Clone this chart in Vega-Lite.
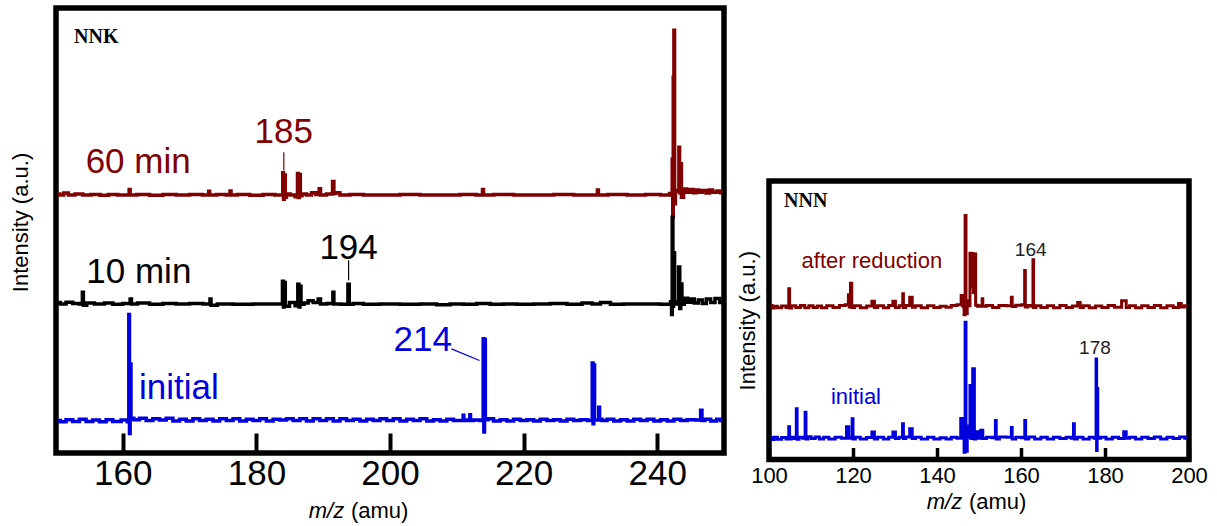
{
  "$schema": "https://vega.github.io/schema/vega-lite/v6.json",
  "padding": {"left": 6, "top": 5, "right": 0, "bottom": 0},
  "background": "white",
  "config": {"font": "Liberation Sans", "view": {"stroke": null}},
  "columns": 2,
  "align": "each",
  "bounds": "full",
  "spacing": 1,
  "datasets": {
    "leftSpectra": [
      {"series":"60 min","mz":150.3,"intensity":58.2},{"series":"60 min","mz":150.8,"intensity":58.0},{"series":"60 min","mz":151.5,"intensity":58.4},{"series":"60 min","mz":152.2,"intensity":58.0},{"series":"60 min","mz":153.5,"intensity":58.2},{"series":"60 min","mz":154.5,"intensity":58.0},{"series":"60 min","mz":156,"intensity":58.1},{"series":"60 min","mz":157.2,"intensity":57.9},{"series":"60 min","mz":158.5,"intensity":58.1},{"series":"60 min","mz":160,"intensity":58.0},{"series":"60 min","mz":160.9,"intensity":58.0},{"series":"60 min","mz":161.0,"intensity":59.2},{"series":"60 min","mz":161.2,"intensity":58.0},{"series":"60 min","mz":163,"intensity":58.1},{"series":"60 min","mz":165,"intensity":57.9},{"series":"60 min","mz":167,"intensity":58.1},{"series":"60 min","mz":169,"intensity":58.0},{"series":"60 min","mz":171,"intensity":58.1},{"series":"60 min","mz":172.8,"intensity":58.0},{"series":"60 min","mz":172.9,"intensity":58.8},{"series":"60 min","mz":173.1,"intensity":58.0},{"series":"60 min","mz":175,"intensity":58.1},{"series":"60 min","mz":176.0,"intensity":58.0},{"series":"60 min","mz":176.1,"intensity":58.9},{"series":"60 min","mz":176.3,"intensity":58.0},{"series":"60 min","mz":178,"intensity":58.1},{"series":"60 min","mz":180,"intensity":57.9},{"series":"60 min","mz":182,"intensity":58.1},{"series":"60 min","mz":183.5,"intensity":58.0},{"series":"60 min","mz":183.9,"intensity":58.0},{"series":"60 min","mz":184.0,"intensity":63.0},{"series":"60 min","mz":184.1,"intensity":57.0},{"series":"60 min","mz":184.25,"intensity":62.5},{"series":"60 min","mz":184.4,"intensity":57.5},{"series":"60 min","mz":184.6,"intensity":58.2},{"series":"60 min","mz":185.5,"intensity":58.0},{"series":"60 min","mz":186.1,"intensity":57.6},{"series":"60 min","mz":186.2,"intensity":62.8},{"series":"60 min","mz":186.35,"intensity":57.4},{"series":"60 min","mz":186.5,"intensity":62.6},{"series":"60 min","mz":186.65,"intensity":57.8},{"series":"60 min","mz":187,"intensity":58.2},{"series":"60 min","mz":188,"intensity":58.0},{"series":"60 min","mz":188.5,"intensity":58.5},{"series":"60 min","mz":189.3,"intensity":58.1},{"series":"60 min","mz":189.5,"intensity":59.4},{"series":"60 min","mz":189.7,"intensity":58.0},{"series":"60 min","mz":191.3,"intensity":58.2},{"series":"60 min","mz":191.5,"intensity":61.0},{"series":"60 min","mz":191.7,"intensity":58.3},{"series":"60 min","mz":192,"intensity":58.5},{"series":"60 min","mz":193,"intensity":58.0},{"series":"60 min","mz":195,"intensity":58.1},{"series":"60 min","mz":197,"intensity":58.0},{"series":"60 min","mz":200,"intensity":58.0},{"series":"60 min","mz":203,"intensity":58.1},{"series":"60 min","mz":206,"intensity":58.0},{"series":"60 min","mz":209,"intensity":58.0},{"series":"60 min","mz":212,"intensity":58.1},{"series":"60 min","mz":213.8,"intensity":58.0},{"series":"60 min","mz":213.9,"intensity":59.2},{"series":"60 min","mz":214.1,"intensity":58.0},{"series":"60 min","mz":217,"intensity":58.1},{"series":"60 min","mz":220,"intensity":58.0},{"series":"60 min","mz":223,"intensity":58.0},{"series":"60 min","mz":226,"intensity":58.1},{"series":"60 min","mz":229,"intensity":58.0},{"series":"60 min","mz":231.0,"intensity":58.0},{"series":"60 min","mz":231.1,"intensity":59.1},{"series":"60 min","mz":231.3,"intensity":58.0},{"series":"60 min","mz":234,"intensity":58.1},{"series":"60 min","mz":237,"intensity":58.0},{"series":"60 min","mz":239.5,"intensity":58.1},{"series":"60 min","mz":241.5,"intensity":58.0},{"series":"60 min","mz":242.2,"intensity":58.3},{"series":"60 min","mz":242.3,"intensity":66},{"series":"60 min","mz":242.35,"intensity":53},{"series":"60 min","mz":242.45,"intensity":84.5},{"series":"60 min","mz":242.55,"intensity":95},{"series":"60 min","mz":242.65,"intensity":56},{"series":"60 min","mz":242.8,"intensity":59},{"series":"60 min","mz":243.2,"intensity":58.8},{"series":"60 min","mz":243.3,"intensity":68.7},{"series":"60 min","mz":243.4,"intensity":58.5},{"series":"60 min","mz":243.55,"intensity":65},{"series":"60 min","mz":243.7,"intensity":57.5},{"series":"60 min","mz":244.2,"intensity":59.3},{"series":"60 min","mz":244.6,"intensity":58.6},{"series":"60 min","mz":245.2,"intensity":59.2},{"series":"60 min","mz":245.6,"intensity":58.5},{"series":"60 min","mz":246,"intensity":59.1},{"series":"60 min","mz":246.5,"intensity":58.6},{"series":"60 min","mz":247,"intensity":59.0},{"series":"60 min","mz":247.6,"intensity":58.4},{"series":"60 min","mz":248,"intensity":59.1},{"series":"60 min","mz":248.6,"intensity":58.6},{"series":"60 min","mz":249.3,"intensity":58.9},{"series":"60 min","mz":249.7,"intensity":58.5},
      {"series":"10 min","mz":150.3,"intensity":33.8},{"series":"10 min","mz":151,"intensity":33.5},{"series":"10 min","mz":152,"intensity":33.9},{"series":"10 min","mz":153,"intensity":33.6},{"series":"10 min","mz":153.9,"intensity":33.5},{"series":"10 min","mz":154.0,"intensity":36.1},{"series":"10 min","mz":154.2,"intensity":33.2},{"series":"10 min","mz":155,"intensity":33.7},{"series":"10 min","mz":156.5,"intensity":33.5},{"series":"10 min","mz":158,"intensity":33.7},{"series":"10 min","mz":159,"intensity":33.4},{"series":"10 min","mz":161,"intensity":33.6},{"series":"10 min","mz":161.2,"intensity":34.6},{"series":"10 min","mz":161.4,"intensity":33.5},{"series":"10 min","mz":163,"intensity":33.7},{"series":"10 min","mz":165,"intensity":33.4},{"series":"10 min","mz":167,"intensity":33.6},{"series":"10 min","mz":169,"intensity":33.5},{"series":"10 min","mz":171,"intensity":33.6},{"series":"10 min","mz":173.0,"intensity":33.5},{"series":"10 min","mz":173.1,"intensity":34.6},{"series":"10 min","mz":173.3,"intensity":33.2},{"series":"10 min","mz":175,"intensity":33.5},{"series":"10 min","mz":178,"intensity":33.4},{"series":"10 min","mz":181,"intensity":33.5},{"series":"10 min","mz":183.8,"intensity":33.5},{"series":"10 min","mz":184.0,"intensity":38.6},{"series":"10 min","mz":184.1,"intensity":32.8},{"series":"10 min","mz":184.25,"intensity":38.3},{"series":"10 min","mz":184.4,"intensity":33.0},{"series":"10 min","mz":185.5,"intensity":33.8},{"series":"10 min","mz":186.1,"intensity":33.1},{"series":"10 min","mz":186.3,"intensity":37.9},{"series":"10 min","mz":186.45,"intensity":32.8},{"series":"10 min","mz":186.6,"intensity":37.5},{"series":"10 min","mz":186.75,"intensity":33.4},{"series":"10 min","mz":187.5,"intensity":33.7},{"series":"10 min","mz":188,"intensity":34.2},{"series":"10 min","mz":189,"intensity":33.8},{"series":"10 min","mz":189.5,"intensity":34.6},{"series":"10 min","mz":189.7,"intensity":33.5},{"series":"10 min","mz":191.4,"intensity":33.6},{"series":"10 min","mz":191.5,"intensity":36.1},{"series":"10 min","mz":191.7,"intensity":33.5},{"series":"10 min","mz":193.6,"intensity":33.4},{"series":"10 min","mz":193.8,"intensity":37.9},{"series":"10 min","mz":194.0,"intensity":33.4},{"series":"10 min","mz":195,"intensity":33.6},{"series":"10 min","mz":197,"intensity":33.4},{"series":"10 min","mz":200,"intensity":33.5},{"series":"10 min","mz":203,"intensity":33.4},{"series":"10 min","mz":206,"intensity":33.5},{"series":"10 min","mz":208,"intensity":33.3},{"series":"10 min","mz":210,"intensity":33.5},{"series":"10 min","mz":212,"intensity":33.4},{"series":"10 min","mz":214,"intensity":33.6},{"series":"10 min","mz":216,"intensity":33.4},{"series":"10 min","mz":218,"intensity":33.5},{"series":"10 min","mz":220,"intensity":33.4},{"series":"10 min","mz":223,"intensity":33.5},{"series":"10 min","mz":225,"intensity":33.6},{"series":"10 min","mz":228,"intensity":33.4},{"series":"10 min","mz":229.5,"intensity":33.7},{"series":"10 min","mz":231,"intensity":33.5},{"series":"10 min","mz":232,"intensity":33.8},{"series":"10 min","mz":234,"intensity":33.4},{"series":"10 min","mz":236,"intensity":33.5},{"series":"10 min","mz":239,"intensity":33.5},{"series":"10 min","mz":241.9,"intensity":33.4},{"series":"10 min","mz":242.1,"intensity":34.0},{"series":"10 min","mz":242.2,"intensity":31.1},{"series":"10 min","mz":242.3,"intensity":53},{"series":"10 min","mz":242.4,"intensity":33},{"series":"10 min","mz":242.5,"intensity":45},{"series":"10 min","mz":242.7,"intensity":33.5},{"series":"10 min","mz":243.1,"intensity":34.0},{"series":"10 min","mz":243.3,"intensity":41.8},{"series":"10 min","mz":243.45,"intensity":32.5},{"series":"10 min","mz":243.6,"intensity":38},{"series":"10 min","mz":243.8,"intensity":33.4},{"series":"10 min","mz":244.3,"intensity":34.8},{"series":"10 min","mz":244.8,"intensity":33.9},{"series":"10 min","mz":245.3,"intensity":34.6},{"series":"10 min","mz":245.8,"intensity":33.7},{"series":"10 min","mz":246.5,"intensity":34.4},{"series":"10 min","mz":247,"intensity":33.6},{"series":"10 min","mz":247.7,"intensity":34.6},{"series":"10 min","mz":248.3,"intensity":33.8},{"series":"10 min","mz":249,"intensity":34.7},{"series":"10 min","mz":249.7,"intensity":33.8},
      {"series":"initial","mz":150.3,"intensity":7.3},{"series":"initial","mz":151,"intensity":7.0},{"series":"initial","mz":152,"intensity":7.5},{"series":"initial","mz":153,"intensity":7.1},{"series":"initial","mz":154,"intensity":7.6},{"series":"initial","mz":155,"intensity":7.1},{"series":"initial","mz":156,"intensity":7.4},{"series":"initial","mz":157,"intensity":7.0},{"series":"initial","mz":158,"intensity":7.5},{"series":"initial","mz":159,"intensity":7.1},{"series":"initial","mz":160.5,"intensity":7.4},{"series":"initial","mz":160.85,"intensity":7.0},{"series":"initial","mz":160.95,"intensity":31.1},{"series":"initial","mz":161.05,"intensity":4.4},{"series":"initial","mz":161.15,"intensity":20},{"series":"initial","mz":161.3,"intensity":7.8},{"series":"initial","mz":162,"intensity":7.5},{"series":"initial","mz":163,"intensity":7.8},{"series":"initial","mz":164,"intensity":7.3},{"series":"initial","mz":165,"intensity":7.7},{"series":"initial","mz":166,"intensity":7.4},{"series":"initial","mz":167,"intensity":7.8},{"series":"initial","mz":168,"intensity":7.2},{"series":"initial","mz":169,"intensity":7.6},{"series":"initial","mz":170,"intensity":7.2},{"series":"initial","mz":171,"intensity":7.7},{"series":"initial","mz":172,"intensity":7.3},{"series":"initial","mz":173,"intensity":7.6},{"series":"initial","mz":174,"intensity":7.2},{"series":"initial","mz":175,"intensity":7.7},{"series":"initial","mz":176,"intensity":7.3},{"series":"initial","mz":177,"intensity":7.7},{"series":"initial","mz":178,"intensity":7.2},{"series":"initial","mz":179,"intensity":7.6},{"series":"initial","mz":180,"intensity":7.3},{"series":"initial","mz":181,"intensity":7.7},{"series":"initial","mz":182,"intensity":7.2},{"series":"initial","mz":183,"intensity":7.6},{"series":"initial","mz":184,"intensity":7.4},{"series":"initial","mz":185,"intensity":7.7},{"series":"initial","mz":186,"intensity":7.3},{"series":"initial","mz":187,"intensity":7.7},{"series":"initial","mz":188,"intensity":7.2},{"series":"initial","mz":189,"intensity":7.7},{"series":"initial","mz":190,"intensity":7.3},{"series":"initial","mz":191,"intensity":7.7},{"series":"initial","mz":192,"intensity":7.2},{"series":"initial","mz":193,"intensity":7.7},{"series":"initial","mz":194,"intensity":7.3},{"series":"initial","mz":195,"intensity":7.6},{"series":"initial","mz":196,"intensity":7.2},{"series":"initial","mz":197,"intensity":7.6},{"series":"initial","mz":198,"intensity":7.3},{"series":"initial","mz":199,"intensity":7.7},{"series":"initial","mz":200,"intensity":7.3},{"series":"initial","mz":201,"intensity":7.7},{"series":"initial","mz":202,"intensity":7.2},{"series":"initial","mz":203,"intensity":7.6},{"series":"initial","mz":204,"intensity":7.3},{"series":"initial","mz":205,"intensity":7.7},{"series":"initial","mz":206,"intensity":7.2},{"series":"initial","mz":207,"intensity":7.5},{"series":"initial","mz":208,"intensity":7.2},{"series":"initial","mz":209,"intensity":7.6},{"series":"initial","mz":210,"intensity":7.3},{"series":"initial","mz":210.9,"intensity":7.3},{"series":"initial","mz":211,"intensity":8.5},{"series":"initial","mz":211.1,"intensity":7.3},{"series":"initial","mz":211.9,"intensity":7.4},{"series":"initial","mz":212,"intensity":8.6},{"series":"initial","mz":212.1,"intensity":7.3},{"series":"initial","mz":213,"intensity":7.4},{"series":"initial","mz":213.9,"intensity":7.3},{"series":"initial","mz":214.0,"intensity":25.7},{"series":"initial","mz":214.1,"intensity":4.7},{"series":"initial","mz":214.2,"intensity":25.5},{"series":"initial","mz":214.35,"intensity":7.5},{"series":"initial","mz":215,"intensity":7.7},{"series":"initial","mz":216,"intensity":7.2},{"series":"initial","mz":217,"intensity":7.5},{"series":"initial","mz":218,"intensity":7.2},{"series":"initial","mz":219,"intensity":7.6},{"series":"initial","mz":220,"intensity":7.3},{"series":"initial","mz":221,"intensity":7.5},{"series":"initial","mz":222,"intensity":7.2},{"series":"initial","mz":223,"intensity":7.6},{"series":"initial","mz":224,"intensity":7.3},{"series":"initial","mz":225,"intensity":7.5},{"series":"initial","mz":226,"intensity":7.2},{"series":"initial","mz":227,"intensity":7.6},{"series":"initial","mz":228,"intensity":7.3},{"series":"initial","mz":229,"intensity":7.5},{"series":"initial","mz":230.2,"intensity":7.3},{"series":"initial","mz":230.35,"intensity":20.2},{"series":"initial","mz":230.45,"intensity":6.6},{"series":"initial","mz":230.55,"intensity":19.8},{"series":"initial","mz":230.7,"intensity":7.4},{"series":"initial","mz":231.2,"intensity":7.4},{"series":"initial","mz":231.3,"intensity":10.3},{"series":"initial","mz":231.45,"intensity":7.6},{"series":"initial","mz":232,"intensity":7.3},{"series":"initial","mz":233,"intensity":7.6},{"series":"initial","mz":234,"intensity":7.2},{"series":"initial","mz":235,"intensity":7.5},{"series":"initial","mz":236,"intensity":7.2},{"series":"initial","mz":237,"intensity":7.6},{"series":"initial","mz":238,"intensity":7.3},{"series":"initial","mz":239,"intensity":7.6},{"series":"initial","mz":240,"intensity":7.2},{"series":"initial","mz":241,"intensity":7.5},{"series":"initial","mz":242,"intensity":7.2},{"series":"initial","mz":243,"intensity":7.6},{"series":"initial","mz":244,"intensity":7.3},{"series":"initial","mz":245,"intensity":7.5},{"series":"initial","mz":246.4,"intensity":7.4},{"series":"initial","mz":246.6,"intensity":9.6},{"series":"initial","mz":246.8,"intensity":7.3},{"series":"initial","mz":247.5,"intensity":7.6},{"series":"initial","mz":248.5,"intensity":7.2},{"series":"initial","mz":249.3,"intensity":7.6},{"series":"initial","mz":249.7,"intensity":7.3}
    ],
    "leftLabels": [
      {"series":"60 min","text":"60 min","mz":162.3,"intensity":63.0},
      {"series":"60 min","text":"185","mz":184.1,"intensity":69.6},
      {"series":"10 min","text":"10 min","mz":162.4,"intensity":38.1},
      {"series":"10 min","text":"194","mz":193.8,"intensity":43.7},
      {"series":"initial","text":"initial","mz":168.4,"intensity":12.2},
      {"series":"initial","text":"214","mz":204.9,"intensity":23.0}
    ],
    "leftLeaders": [
      {"series":"60 min","mz":184.1,"intensity":67.6,"mz2":184.1,"intensity2":63.5},
      {"series":"10 min","mz":193.8,"intensity":43.3,"mz2":193.8,"intensity2":38.8},
      {"series":"initial","mz":209.2,"intensity":23.4,"mz2":213.4,"intensity2":20.8}
    ],
    "leftTag": [{"text":"NNK","mz":152.7,"intensity":92.2}],
    "leftXTitleVar": [{"text":"m/z","mz":193.15,"intensity":-14.7}],
    "leftXTitleUnit": [{"text":"(amu)","mz":194.15,"intensity":-14.7}],
    "rightSpectra": [
      {"series":"after reduction","mz":100.5,"intensity":55.3},{"series":"after reduction","mz":101.0,"intensity":54.4},{"series":"after reduction","mz":101.5,"intensity":55.0},{"series":"after reduction","mz":102.5,"intensity":54.5},{"series":"after reduction","mz":103.5,"intensity":55.1},{"series":"after reduction","mz":104.6,"intensity":54.6},{"series":"after reduction","mz":104.8,"intensity":61.3},{"series":"after reduction","mz":105.0,"intensity":54.4},{"series":"after reduction","mz":105.8,"intensity":55.2},{"series":"after reduction","mz":107,"intensity":54.6},{"series":"after reduction","mz":108,"intensity":55.3},{"series":"after reduction","mz":109,"intensity":54.5},{"series":"after reduction","mz":110,"intensity":55.2},{"series":"after reduction","mz":111,"intensity":54.6},{"series":"after reduction","mz":112,"intensity":55.1},{"series":"after reduction","mz":113,"intensity":54.5},{"series":"after reduction","mz":114.5,"intensity":55.2},{"series":"after reduction","mz":116,"intensity":54.6},{"series":"after reduction","mz":117.5,"intensity":55.3},{"series":"after reduction","mz":118.8,"intensity":55.6},{"series":"after reduction","mz":119.0,"intensity":59.2},{"series":"after reduction","mz":119.2,"intensity":54.8},{"series":"after reduction","mz":119.6,"intensity":63.3},{"series":"after reduction","mz":119.8,"intensity":54.6},{"series":"after reduction","mz":121,"intensity":55.2},{"series":"after reduction","mz":122.5,"intensity":54.5},{"series":"after reduction","mz":124,"intensity":55.1},{"series":"after reduction","mz":125.0,"intensity":56.8},{"series":"after reduction","mz":125.2,"intensity":54.6},{"series":"after reduction","mz":126.5,"intensity":55.2},{"series":"after reduction","mz":128,"intensity":54.5},{"series":"after reduction","mz":129,"intensity":55.3},{"series":"after reduction","mz":130.0,"intensity":56.8},{"series":"after reduction","mz":130.2,"intensity":54.6},{"series":"after reduction","mz":131.8,"intensity":55.2},{"series":"after reduction","mz":131.9,"intensity":59.5},{"series":"after reduction","mz":132.1,"intensity":54.6},{"series":"after reduction","mz":133.0,"intensity":55.3},{"series":"after reduction","mz":134.0,"intensity":58.3},{"series":"after reduction","mz":134.2,"intensity":54.7},{"series":"after reduction","mz":135.5,"intensity":55.2},{"series":"after reduction","mz":137,"intensity":54.5},{"series":"after reduction","mz":138.5,"intensity":55.2},{"series":"after reduction","mz":140,"intensity":54.6},{"series":"after reduction","mz":141.5,"intensity":55.0},{"series":"after reduction","mz":142.8,"intensity":54.7},{"series":"after reduction","mz":144,"intensity":55.3},{"series":"after reduction","mz":145.5,"intensity":55.6},{"series":"after reduction","mz":146.0,"intensity":58.9},{"series":"after reduction","mz":146.3,"intensity":55.0},{"series":"after reduction","mz":146.6,"intensity":52.0},{"series":"after reduction","mz":146.8,"intensity":87.6},{"series":"after reduction","mz":147.0,"intensity":52.4},{"series":"after reduction","mz":147.4,"intensity":57},{"series":"after reduction","mz":147.8,"intensity":55.2},{"series":"after reduction","mz":147.9,"intensity":74.1},{"series":"after reduction","mz":148.2,"intensity":62},{"series":"after reduction","mz":148.5,"intensity":74.0},{"series":"after reduction","mz":148.8,"intensity":60},{"series":"after reduction","mz":149.1,"intensity":73.8},{"series":"after reduction","mz":149.3,"intensity":55.4},{"series":"after reduction","mz":150.0,"intensity":55.0},{"series":"after reduction","mz":150.7,"intensity":55.2},{"series":"after reduction","mz":150.8,"intensity":57.7},{"series":"after reduction","mz":151.0,"intensity":55.0},{"series":"after reduction","mz":152.5,"intensity":55.3},{"series":"after reduction","mz":154,"intensity":54.6},{"series":"after reduction","mz":155.5,"intensity":55.3},{"series":"after reduction","mz":157.6,"intensity":55.2},{"series":"after reduction","mz":157.8,"intensity":58.3},{"series":"after reduction","mz":158.0,"intensity":54.9},{"series":"after reduction","mz":159.5,"intensity":55.4},{"series":"after reduction","mz":160.8,"intensity":55.6},{"series":"after reduction","mz":160.95,"intensity":67.9},{"series":"after reduction","mz":161.1,"intensity":54.8},{"series":"after reduction","mz":162.2,"intensity":55.3},{"series":"after reduction","mz":162.8,"intensity":55.0},{"series":"after reduction","mz":162.9,"intensity":71.7},{"series":"after reduction","mz":163.1,"intensity":54.6},{"series":"after reduction","mz":164,"intensity":55.2},{"series":"after reduction","mz":165.5,"intensity":54.6},{"series":"after reduction","mz":167,"intensity":55.2},{"series":"after reduction","mz":168.5,"intensity":54.5},{"series":"after reduction","mz":170,"intensity":55.3},{"series":"after reduction","mz":171.5,"intensity":54.6},{"series":"after reduction","mz":173,"intensity":55.1},{"series":"after reduction","mz":174.0,"intensity":56.4},{"series":"after reduction","mz":174.2,"intensity":54.6},{"series":"after reduction","mz":175.5,"intensity":55.2},{"series":"after reduction","mz":177,"intensity":54.5},{"series":"after reduction","mz":178.5,"intensity":55.1},{"series":"after reduction","mz":180,"intensity":54.6},{"series":"after reduction","mz":181.5,"intensity":55.3},{"series":"after reduction","mz":183,"intensity":54.7},{"series":"after reduction","mz":184.9,"intensity":57.0},{"series":"after reduction","mz":185.2,"intensity":54.6},{"series":"after reduction","mz":186.5,"intensity":55.2},{"series":"after reduction","mz":188,"intensity":54.5},{"series":"after reduction","mz":189.5,"intensity":55.2},{"series":"after reduction","mz":191,"intensity":54.6},{"series":"after reduction","mz":192.5,"intensity":55.3},{"series":"after reduction","mz":194,"intensity":54.5},{"series":"after reduction","mz":195.5,"intensity":55.2},{"series":"after reduction","mz":197,"intensity":54.6},{"series":"after reduction","mz":198,"intensity":56.0},{"series":"after reduction","mz":198.3,"intensity":54.8},{"series":"after reduction","mz":199.5,"intensity":55.2},
      {"series":"initial","mz":100.5,"intensity":7.9},{"series":"initial","mz":101.0,"intensity":7.2},{"series":"initial","mz":101.5,"intensity":8.0},{"series":"initial","mz":102.5,"intensity":7.3},{"series":"initial","mz":103.5,"intensity":7.9},{"series":"initial","mz":104.6,"intensity":7.4},{"series":"initial","mz":104.8,"intensity":11.8},{"series":"initial","mz":105.0,"intensity":7.4},{"series":"initial","mz":105.6,"intensity":8.0},{"series":"initial","mz":106.4,"intensity":7.5},{"series":"initial","mz":106.6,"intensity":18.2},{"series":"initial","mz":106.8,"intensity":7.3},{"series":"initial","mz":107.5,"intensity":8.0},{"series":"initial","mz":108.5,"intensity":7.6},{"series":"initial","mz":108.7,"intensity":17.0},{"series":"initial","mz":108.9,"intensity":7.4},{"series":"initial","mz":109.6,"intensity":8.2},{"series":"initial","mz":110.5,"intensity":7.5},{"series":"initial","mz":111.5,"intensity":8.1},{"series":"initial","mz":112.5,"intensity":7.4},{"series":"initial","mz":113.5,"intensity":8.0},{"series":"initial","mz":115,"intensity":7.4},{"series":"initial","mz":116.5,"intensity":8.0},{"series":"initial","mz":118,"intensity":7.6},{"series":"initial","mz":118.9,"intensity":11.8},{"series":"initial","mz":119.1,"intensity":7.6},{"series":"initial","mz":119.7,"intensity":7.8},{"series":"initial","mz":119.9,"intensity":14.6},{"series":"initial","mz":120.1,"intensity":7.4},{"series":"initial","mz":121,"intensity":8.0},{"series":"initial","mz":122.5,"intensity":7.4},{"series":"initial","mz":124,"intensity":7.9},{"series":"initial","mz":125.0,"intensity":9.9},{"series":"initial","mz":125.2,"intensity":7.4},{"series":"initial","mz":126.5,"intensity":8.0},{"series":"initial","mz":128,"intensity":7.4},{"series":"initial","mz":129,"intensity":8.0},{"series":"initial","mz":130.0,"intensity":9.9},{"series":"initial","mz":130.2,"intensity":7.5},{"series":"initial","mz":131.7,"intensity":8.0},{"series":"initial","mz":131.9,"intensity":12.8},{"series":"initial","mz":132.1,"intensity":7.5},{"series":"initial","mz":133,"intensity":8.1},{"series":"initial","mz":134.0,"intensity":11.0},{"series":"initial","mz":134.2,"intensity":7.5},{"series":"initial","mz":135.5,"intensity":8.0},{"series":"initial","mz":137,"intensity":7.4},{"series":"initial","mz":138.5,"intensity":8.0},{"series":"initial","mz":140,"intensity":7.4},{"series":"initial","mz":141.5,"intensity":7.8},{"series":"initial","mz":142.8,"intensity":7.4},{"series":"initial","mz":144,"intensity":8.0},{"series":"initial","mz":145.5,"intensity":7.6},{"series":"initial","mz":145.8,"intensity":14.7},{"series":"initial","mz":146.3,"intensity":7.7},{"series":"initial","mz":146.6,"intensity":2.6},{"series":"initial","mz":146.8,"intensity":49.3},{"series":"initial","mz":147.0,"intensity":3.0},{"series":"initial","mz":147.4,"intensity":12},{"series":"initial","mz":147.7,"intensity":8},{"series":"initial","mz":148.0,"intensity":26.6},{"series":"initial","mz":148.2,"intensity":7.5},{"series":"initial","mz":148.8,"intensity":32.6},{"series":"initial","mz":149.0,"intensity":7.4},{"series":"initial","mz":149.4,"intensity":10},{"series":"initial","mz":150,"intensity":7.6},{"series":"initial","mz":150.8,"intensity":10.5},{"series":"initial","mz":151.0,"intensity":7.5},{"series":"initial","mz":152.5,"intensity":8.0},{"series":"initial","mz":153.8,"intensity":7.8},{"series":"initial","mz":154.0,"intensity":14.0},{"series":"initial","mz":154.2,"intensity":7.4},{"series":"initial","mz":155.5,"intensity":8.1},{"series":"initial","mz":157.6,"intensity":8.0},{"series":"initial","mz":157.8,"intensity":11.5},{"series":"initial","mz":158.0,"intensity":7.4},{"series":"initial","mz":159.5,"intensity":8.0},{"series":"initial","mz":160.8,"intensity":7.8},{"series":"initial","mz":161.0,"intensity":14.0},{"series":"initial","mz":161.2,"intensity":7.4},{"series":"initial","mz":162.5,"intensity":8.1},{"series":"initial","mz":164,"intensity":7.4},{"series":"initial","mz":165.5,"intensity":8.0},{"series":"initial","mz":167,"intensity":7.4},{"series":"initial","mz":168.5,"intensity":8.0},{"series":"initial","mz":170,"intensity":7.5},{"series":"initial","mz":171.5,"intensity":8.0},{"series":"initial","mz":172.4,"intensity":7.6},{"series":"initial","mz":172.6,"intensity":12.8},{"series":"initial","mz":172.8,"intensity":7.4},{"series":"initial","mz":174,"intensity":8.0},{"series":"initial","mz":175.5,"intensity":7.4},{"series":"initial","mz":177,"intensity":8.0},{"series":"initial","mz":177.8,"intensity":7.6},{"series":"initial","mz":177.95,"intensity":36.1},{"series":"initial","mz":178.05,"intensity":3.2},{"series":"initial","mz":178.2,"intensity":25.5},{"series":"initial","mz":178.35,"intensity":7.6},{"series":"initial","mz":179.5,"intensity":8.0},{"series":"initial","mz":181,"intensity":7.4},{"series":"initial","mz":182.5,"intensity":8.0},{"series":"initial","mz":184,"intensity":7.5},{"series":"initial","mz":184.9,"intensity":10.0},{"series":"initial","mz":185.2,"intensity":7.6},{"series":"initial","mz":186.5,"intensity":8.0},{"series":"initial","mz":188,"intensity":7.4},{"series":"initial","mz":189.5,"intensity":8.0},{"series":"initial","mz":191,"intensity":7.5},{"series":"initial","mz":192.5,"intensity":8.1},{"series":"initial","mz":194,"intensity":7.4},{"series":"initial","mz":195.5,"intensity":8.0},{"series":"initial","mz":197,"intensity":7.5},{"series":"initial","mz":198.5,"intensity":8.1},{"series":"initial","mz":199.5,"intensity":7.6}
    ],
    "rightLabels": [
      {"series":"after reduction","text":"after reduction","mz":124.5,"intensity":68.9},
      {"series":"initial","text":"initial","mz":120.7,"intensity":20.0}
    ],
    "rightPeakLabels": [
      {"text":"164","mz":162.3,"intensity":73.2},
      {"text":"178","mz":177.6,"intensity":38.0}
    ],
    "rightTag": [{"text":"NNN","mz":103.6,"intensity":90.5}],
    "rightXTitleVar": [{"text":"m/z","mz":146.0,"intensity":-17.6}],
    "rightXTitleUnit": [{"text":"(amu)","mz":147.6,"intensity":-17.6}],
    "spacer": [{}]
  },
  "concat": [
    {
      "width": 668,
      "height": 445,
      "view": {"stroke": "black", "strokeWidth": 5.5},
      "layer": [
        {
          "data": {"name": "leftSpectra"},
          "mark": {"type": "line", "strokeWidth": 3.5, "interpolate": "step", "strokeJoin": "miter"},
          "encoding": {
            "x": {"field": "mz", "type": "quantitative", "title": null,
                  "scale": {"domain": [150, 250], "nice": false, "zero": false},
                  "axis": {"values": [160, 180, 200, 220, 240], "grid": false, "domain": false, "tickSize": -20, "tickWidth": 4, "tickColor": "black", "labelFontSize": 35, "labelColor": "black", "labelPadding": 23, "labelFlush": false, "labelFont": "Liberation Sans"}},
            "y": {"field": "intensity", "type": "quantitative", "title": "Intensity (a.u.)",
                  "scale": {"domain": [0, 100], "nice": false, "zero": false},
                  "axis": {"labels": false, "ticks": false, "domain": false, "grid": false, "titleFontSize": 22, "titleFontWeight": "normal", "titleColor": "black", "titleFont": "Liberation Sans", "titlePadding": 24, "titleY": 214}},
            "color": {"field": "series", "type": "nominal", "legend": null,
                      "scale": {"domain": ["60 min", "10 min", "initial", "after reduction"], "range": ["#800000", "#000000", "#0000dd", "#800000"]}}
          }
        },
        {
          "data": {"name": "leftLeaders"},
          "mark": {"type": "rule", "strokeWidth": 1.2},
          "encoding": {
            "x": {"field": "mz", "type": "quantitative", "title": null},
            "x2": {"field": "mz2"},
            "y": {"field": "intensity", "type": "quantitative", "title": "Intensity (a.u.)"},
            "y2": {"field": "intensity2"},
            "color": {"field": "series", "type": "nominal", "legend": null,
                      "scale": {"domain": ["60 min", "10 min", "initial", "after reduction"], "range": ["#800000", "#000000", "#0000dd", "#800000"]}}
          }
        },
        {
          "data": {"name": "leftLabels"},
          "mark": {"type": "text", "fontSize": 35, "align": "center", "baseline": "alphabetic", "font": "Liberation Sans"},
          "encoding": {
            "x": {"field": "mz", "type": "quantitative", "title": null},
            "y": {"field": "intensity", "type": "quantitative", "title": "Intensity (a.u.)"},
            "text": {"field": "text"},
            "color": {"field": "series", "type": "nominal", "legend": null,
                      "scale": {"domain": ["60 min", "10 min", "initial", "after reduction"], "range": ["#800000", "#000000", "#0000dd", "#800000"]}}
          }
        },
        {
          "data": {"name": "leftTag"},
          "mark": {"type": "text", "fontSize": 20, "fontWeight": "bold", "font": "Liberation Serif", "align": "left", "baseline": "alphabetic", "color": "black"},
          "encoding": {
            "x": {"field": "mz", "type": "quantitative", "title": null},
            "y": {"field": "intensity", "type": "quantitative", "title": "Intensity (a.u.)"},
            "text": {"field": "text"}
          }
        },
        {
          "data": {"name": "leftXTitleVar"},
          "mark": {"type": "text", "fontSize": 22, "fontStyle": "italic", "font": "Liberation Sans", "align": "right", "baseline": "alphabetic", "color": "black"},
          "encoding": {
            "x": {"field": "mz", "type": "quantitative", "title": null},
            "y": {"field": "intensity", "type": "quantitative", "title": "Intensity (a.u.)"},
            "text": {"field": "text"}
          }
        },
        {
          "data": {"name": "leftXTitleUnit"},
          "mark": {"type": "text", "fontSize": 22, "font": "Liberation Sans", "align": "left", "baseline": "alphabetic", "color": "black"},
          "encoding": {
            "x": {"field": "mz", "type": "quantitative", "title": null},
            "y": {"field": "intensity", "type": "quantitative", "title": "Intensity (a.u.)"},
            "text": {"field": "text"}
          }
        }
      ]
    },
    {
      "spacing": 0,
      "vconcat": [
        {
          "width": 420,
          "height": 170,
          "view": {"stroke": null, "fill": "white"},
          "data": {"name": "spacer"},
          "mark": {"type": "point", "opacity": 0},
          "encoding": {}
        },
        {
          "width": 420,
          "height": 278.5,
          "view": {"stroke": "black", "strokeWidth": 5.5},
          "layer": [
            {
              "data": {"name": "rightSpectra"},
              "mark": {"type": "line", "strokeWidth": 3, "interpolate": "step", "strokeJoin": "miter"},
              "encoding": {
                "x": {"field": "mz", "type": "quantitative", "title": null,
                      "scale": {"domain": [100, 200], "nice": false, "zero": false},
                      "axis": {"values": [100, 120, 140, 160, 180, 200], "grid": false, "domain": false, "tickSize": -12, "tickWidth": 3.5, "tickColor": "black", "labelFontSize": 22, "labelColor": "black", "labelPadding": 18, "labelFlush": false, "labelFont": "Liberation Sans"}},
                "y": {"field": "intensity", "type": "quantitative", "title": "Intensity (a.u.)",
                      "scale": {"domain": [0, 100], "nice": false, "zero": false},
                      "axis": {"labels": false, "ticks": false, "domain": false, "grid": false, "titleFontSize": 22, "titleFontWeight": "normal", "titleColor": "black", "titleFont": "Liberation Sans", "titlePadding": 10}},
                "color": {"field": "series", "type": "nominal", "legend": null,
                          "scale": {"domain": ["60 min", "10 min", "initial", "after reduction"], "range": ["#800000", "#000000", "#0000dd", "#800000"]}}
              }
            },
            {
              "data": {"name": "rightLabels"},
              "mark": {"type": "text", "fontSize": 22, "align": "center", "baseline": "alphabetic", "font": "Liberation Sans"},
              "encoding": {
                "x": {"field": "mz", "type": "quantitative", "title": null},
                "y": {"field": "intensity", "type": "quantitative", "title": "Intensity (a.u.)"},
                "text": {"field": "text"},
                "color": {"field": "series", "type": "nominal", "legend": null,
                          "scale": {"domain": ["60 min", "10 min", "initial", "after reduction"], "range": ["#800000", "#000000", "#0000dd", "#800000"]}}
              }
            },
            {
              "data": {"name": "rightPeakLabels"},
              "mark": {"type": "text", "fontSize": 19, "align": "center", "baseline": "alphabetic", "font": "Liberation Sans", "color": "#222222"},
              "encoding": {
                "x": {"field": "mz", "type": "quantitative", "title": null},
                "y": {"field": "intensity", "type": "quantitative", "title": "Intensity (a.u.)"},
                "text": {"field": "text"}
              }
            },
            {
              "data": {"name": "rightTag"},
              "mark": {"type": "text", "fontSize": 20, "fontWeight": "bold", "font": "Liberation Serif", "align": "left", "baseline": "alphabetic", "color": "black"},
              "encoding": {
                "x": {"field": "mz", "type": "quantitative", "title": null},
                "y": {"field": "intensity", "type": "quantitative", "title": "Intensity (a.u.)"},
                "text": {"field": "text"}
              }
            },
            {
              "data": {"name": "rightXTitleVar"},
              "mark": {"type": "text", "fontSize": 22, "fontStyle": "italic", "font": "Liberation Sans", "align": "right", "baseline": "alphabetic", "color": "black"},
              "encoding": {
                "x": {"field": "mz", "type": "quantitative", "title": null},
                "y": {"field": "intensity", "type": "quantitative", "title": "Intensity (a.u.)"},
                "text": {"field": "text"}
              }
            },
            {
              "data": {"name": "rightXTitleUnit"},
              "mark": {"type": "text", "fontSize": 22, "font": "Liberation Sans", "align": "left", "baseline": "alphabetic", "color": "black"},
              "encoding": {
                "x": {"field": "mz", "type": "quantitative", "title": null},
                "y": {"field": "intensity", "type": "quantitative", "title": "Intensity (a.u.)"},
                "text": {"field": "text"}
              }
            }
          ]
        }
      ]
    }
  ]
}
